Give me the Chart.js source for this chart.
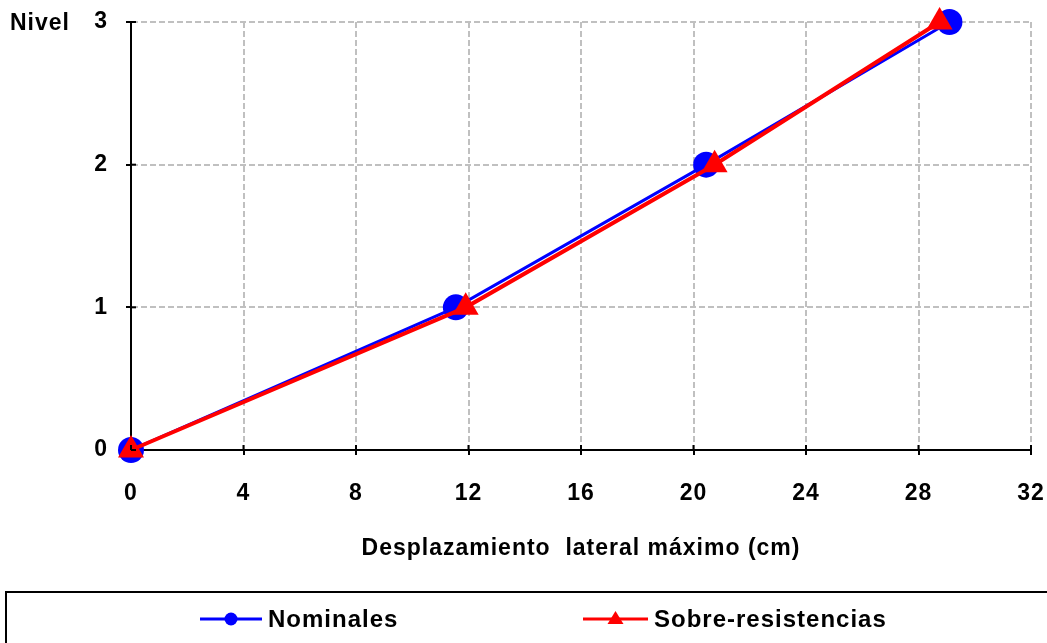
<!DOCTYPE html>
<html>
<head>
<meta charset="utf-8">
<script src="https://cdn.jsdelivr.net/npm/chart.js@4/dist/chart.umd.min.js"></script>
<style>
  body { margin: 0; background: #fff; }
  canvas { display: block; }
</style>
</head>
<body>
<canvas id="myChart" width="1047" height="643"></canvas>
<script>
// niveles (eje y) y desplazamientos (cm)
const niveles = [0, 1, 2, 3];
const nominales = [0, 11.55, 20.45, 29.1];
const sobreResistencias = [0, 11.9, 20.75, 28.75];
const xTicks = [0, 4, 8, 12, 16, 20, 24, 28, 32];
const yTicks = [0, 1, 2, 3];

const FONT = 'Liberation Sans, Arial, sans-serif';

function toPoints(xs) {
     return xs.map((x, i) => ({ x: x, y: niveles[i] }));
}

// texto un poco más ancho, como en el original
const wideText = {
     id: 'wideText',
     beforeDraw(chart) {
          chart.ctx.letterSpacing = '1px';
     }
};

// marcas de eje que cruzan la línea (hacia dentro)
const innerTicks = {
     id: 'innerTicks',
     afterDraw(chart) {
          const ctx = chart.ctx;
          const xs = chart.scales.x, ys = chart.scales.y;
          ctx.save();
          ctx.strokeStyle = '#000';
          ctx.lineWidth = 2;
          xTicks.forEach(v => {
               const px = xs.getPixelForValue(v);
               ctx.beginPath();
               ctx.moveTo(px, ys.bottom);
               ctx.lineTo(px, ys.bottom - 5);
               ctx.stroke();
          });
          yTicks.forEach(v => {
               const py = ys.getPixelForValue(v);
               ctx.beginPath();
               ctx.moveTo(xs.left, py);
               ctx.lineTo(xs.left + 5, py);
               ctx.stroke();
          });
          // etiqueta "Nivel"
          ctx.fillStyle = '#000';
          ctx.font = 'bold 23px ' + FONT;
          ctx.textBaseline = 'middle';
          ctx.textAlign = 'left';
          ctx.fillText('Nivel', 10, 24);
          ctx.restore();
     }
};

// leyenda con recuadro, estilo Excel
const boxLegend = {
     id: 'boxLegend',
     afterDraw(chart) {
          const ctx = chart.ctx;
          ctx.save();
          ctx.strokeStyle = '#000';
          ctx.lineWidth = 2;
          ctx.strokeRect(6, 592, 1050, 70);

          const items = [
               { ds: chart.data.datasets[0], x: 200, w: 62 },
               { ds: chart.data.datasets[1], x: 583, w: 65 }
          ];
          const y = 619;
          items.forEach(it => {
               const c = it.ds.borderColor;
               ctx.strokeStyle = c;
               ctx.fillStyle = c;
               ctx.lineWidth = 3;
               ctx.beginPath();
               ctx.moveTo(it.x, y);
               ctx.lineTo(it.x + it.w, y);
               ctx.stroke();
               const cx = it.x + it.w / 2;
               ctx.beginPath();
               if (it.ds.pointStyle === 'triangle') {
                    ctx.moveTo(cx, y - 8);
                    ctx.lineTo(cx + 8, y + 5);
                    ctx.lineTo(cx - 8, y + 5);
                    ctx.closePath();
               } else {
                    ctx.arc(cx, y, 6.5, 0, Math.PI * 2);
               }
               ctx.fill();
               ctx.fillStyle = '#000';
               ctx.font = 'bold 24px ' + FONT;
               ctx.textBaseline = 'middle';
               ctx.textAlign = 'left';
               ctx.fillText(it.ds.label, it.x + it.w + 6, y + 1);
          });
          ctx.restore();
     }
};

const ctx1 = document.getElementById('myChart').getContext('2d');

const chart = new Chart(ctx1, {
     type: 'line',
     data: {
          datasets: [{
               label: 'Nominales',
               data: toPoints(nominales),
               borderColor: '#0000FF',
               backgroundColor: '#0000FF',
               borderWidth: 3,
               pointStyle: 'circle',
               pointRadius: 13,
               pointBorderWidth: 0,
               tension: 0,
               clip: false,
               order: 1
          }, {
               label: 'Sobre-resistencias',
               data: toPoints(sobreResistencias),
               borderColor: '#FF0000',
               backgroundColor: '#FF0000',
               borderWidth: 4,
               pointStyle: 'triangle',
               pointRadius: 15,
               pointBorderWidth: 0,
               tension: 0,
               clip: false,
               order: 0
          }]
     },
     options: {
          responsive: false,
          animation: false,
          events: [],
          layout: {
               padding: { top: 22, right: 16, bottom: 73, left: 0 }
          },
          plugins: {
               legend: { display: false },
               tooltip: { enabled: false }
          },
          scales: {
               x: {
                    type: 'linear',
                    min: 0,
                    max: 32,
                    afterFit: s => { s.height = 120; s.paddingLeft = 0; s.paddingRight = 0; },
                    afterBuildTicks: s => { s.ticks = xTicks.map(v => ({ value: v })); },
                    ticks: {
                         color: '#000',
                         padding: 25,
                         font: { family: FONT, size: 23, weight: 'bold' }
                    },
                    grid: {
                         color: '#C0C0C0',
                         lineWidth: 2,
                         tickLength: 5,
                         tickColor: '#000',
                         tickWidth: 2,
                         tickBorderDash: [1, 0]
                    },
                    border: { color: '#000', width: 2, dash: [6, 3] },
                    title: {
                         display: true,
                         text: 'Desplazamiento  lateral máximo (cm)',
                         color: '#000',
                         padding: { top: 0, bottom: 8 },
                         font: { family: FONT, size: 23, weight: 'bold' }
                    }
               },
               y: {
                    min: 0,
                    max: 3,
                    afterFit: s => { s.width = 131; s.paddingTop = 0; s.paddingBottom = 0; },
                    afterBuildTicks: s => { s.ticks = yTicks.map(v => ({ value: v })); },
                    ticks: {
                         color: '#000',
                         padding: 18,
                         font: { family: FONT, size: 23, weight: 'bold' }
                    },
                    grid: {
                         color: '#C0C0C0',
                         lineWidth: 2,
                         tickLength: 5,
                         tickColor: '#000',
                         tickWidth: 2,
                         tickBorderDash: [1, 0]
                    },
                    border: { color: '#000', width: 2, dash: [6, 3] }
               }
          }
     },
     plugins: [wideText, innerTicks, boxLegend]
});
</script>
</body>
</html>
